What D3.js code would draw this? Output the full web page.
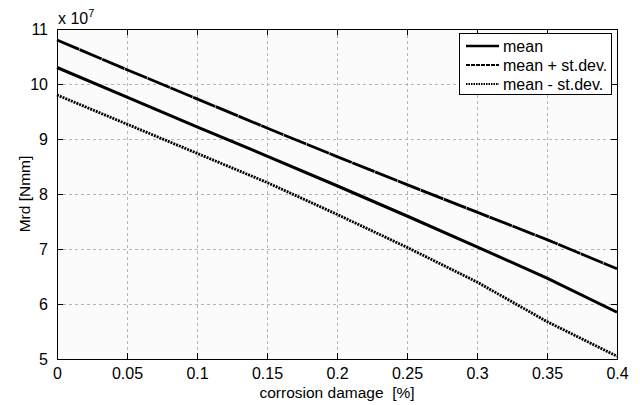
<!DOCTYPE html>
<html>
<head>
<meta charset="utf-8">
<script src="https://cdn.jsdelivr.net/npm/d3@7"></script>
<style>
  html, body { margin: 0; padding: 0; background: #fff; }
  svg { display: block; font-family: "Liberation Sans", Arial, sans-serif; }
</style>
</head>
<body>
<svg id="chart" width="640" height="405"></svg>
<script>
// Corrosion damage levels [%]
const damage = [0, 0.05, 0.1, 0.15, 0.2, 0.25, 0.3, 0.35, 0.4];
// Moment resistance, in units of 1e7 Nmm
const meanMrd  = [10.30, 9.76, 9.22, 8.69, 8.15, 7.60, 7.04, 6.47, 5.85];
const plusSd   = [10.80, 10.26, 9.73, 9.20, 8.68, 8.17, 7.67, 7.17, 6.64];
const minusSd  = [9.80, 9.27, 8.74, 8.21, 7.63, 7.03, 6.40, 5.68, 5.05];
const xTicks = [0, 0.05, 0.1, 0.15, 0.2, 0.25, 0.3, 0.35, 0.4];
const yTicks = [5, 6, 7, 8, 9, 10, 11];
const seriesNames = ["mean", "mean + st.dev.", "mean - st.dev."];

const svg = d3.select("#chart");
const m = { left: 57, right: 617, top: 29, bottom: 359 };

const x = d3.scaleLinear().domain([0, 0.4]).range([m.left, m.right]);
const y = d3.scaleLinear().domain([5, 11]).range([m.bottom, m.top]);

// plot background
svg.append("rect")
  .attr("x", m.left).attr("y", m.top)
  .attr("width", m.right - m.left).attr("height", m.bottom - m.top)
  .attr("fill", "#fbfbfb");

// dashed grid
const grid = svg.append("g").attr("stroke", "#b4b4b4").attr("stroke-width", 1)
  .attr("stroke-dasharray", "3,3").attr("shape-rendering", "crispEdges");
xTicks.slice(1, -1).forEach(t => grid.append("line")
  .attr("x1", Math.round(x(t)) + 0.5).attr("x2", Math.round(x(t)) + 0.5)
  .attr("y1", m.top).attr("y2", m.bottom));
yTicks.slice(1, -1).forEach(t => grid.append("line")
  .attr("y1", Math.round(y(t)) + 0.5).attr("y2", Math.round(y(t)) + 0.5)
  .attr("x1", m.left).attr("x2", m.right));

// axes with inward ticks on all four sides
const fs = "16px";
const bottomAxis = d3.axisBottom(x).tickValues(xTicks).tickSize(-6).tickPadding(12)
  .tickFormat(d => String(+d.toFixed(2)));
const topAxis = d3.axisTop(x).tickValues(xTicks).tickSize(-6).tickFormat("");
const leftAxis = d3.axisLeft(y).tickValues(yTicks).tickSize(-6).tickPadding(9)
  .tickFormat(d3.format("d"));
const rightAxis = d3.axisRight(y).tickValues(yTicks).tickSize(-6).tickFormat("");

function styleAxis(g) {
  g.select(".domain").attr("stroke", "#000").attr("stroke-width", 1.2);
  g.selectAll(".tick line").attr("stroke", "#000").attr("stroke-width", 1);
  g.selectAll(".tick text").attr("fill", "#000").style("font-size", fs);
}
svg.append("g").attr("transform", `translate(0,${m.bottom})`).call(bottomAxis).call(styleAxis)
  .selectAll(".tick text").attr("dy", "0.5em");
svg.append("g").attr("transform", `translate(0,${m.top})`).call(topAxis).call(styleAxis);
svg.append("g").attr("transform", `translate(${m.left},0)`).call(leftAxis).call(styleAxis);
svg.append("g").attr("transform", `translate(${m.right},0)`).call(rightAxis).call(styleAxis);
svg.selectAll(".domain").attr("shape-rendering", "crispEdges");

// exponent label
const expo = svg.append("text").attr("x", m.left + 1).attr("y", 24)
  .style("font-size", "16px").attr("fill", "#000");
expo.append("tspan").text("x 10");
expo.append("tspan").attr("dy", -7).style("font-size", "11px").text("7");

// axis titles
svg.append("text").attr("x", (m.left + m.right) / 2).attr("y", 398)
  .attr("text-anchor", "middle").style("font-size", "15.5px").attr("fill", "#000")
  .attr("xml:space", "preserve").text("corrosion damage  [%]");
svg.append("text")
  .attr("transform", `translate(30,${(m.top + m.bottom) / 2}) rotate(-90)`)
  .attr("text-anchor", "middle").style("font-size", "15.5px").attr("fill", "#000")
  .text("Mrd [Nmm]");

// series lines
const series = [
  { name: seriesNames[0], values: meanMrd, dash: null, width: 3 },
  { name: seriesNames[1], values: plusSd, dash: "24,0.6", width: 2.8 },
  { name: seriesNames[2], values: minusSd, dash: "2,1", width: 2.8 }
];
const line = d3.line().x((d, i) => x(damage[i])).y(d => y(d));
series.forEach(s => {
  svg.append("path").datum(s.values)
    .attr("d", line).attr("fill", "none").attr("stroke", "#000")
    .attr("stroke-width", s.width).attr("stroke-dasharray", s.dash)
    .attr("stroke-linejoin", "round");
});

// legend
const lg = svg.append("g");
lg.append("rect").attr("x", 459.5).attr("y", 33.5).attr("width", 152).attr("height", 61)
  .attr("fill", "#fff").attr("stroke", "#000").attr("stroke-width", 1);
series.forEach((s, i) => {
  const cy = 46 + i * 19;
  lg.append("line").attr("x1", 466).attr("x2", 499).attr("y1", cy).attr("y2", cy)
    .attr("stroke", "#000").attr("stroke-width", i === 0 ? 2.6 : 2)
    .attr("stroke-dasharray", i === 0 ? null : (i === 1 ? "4,1" : "1.5,1"));
  lg.append("text").attr("x", 503).attr("y", cy).attr("dy", "0.35em")
    .style("font-size", "16px").attr("fill", "#000").text(s.name);
});
</script>
</body>
</html>
